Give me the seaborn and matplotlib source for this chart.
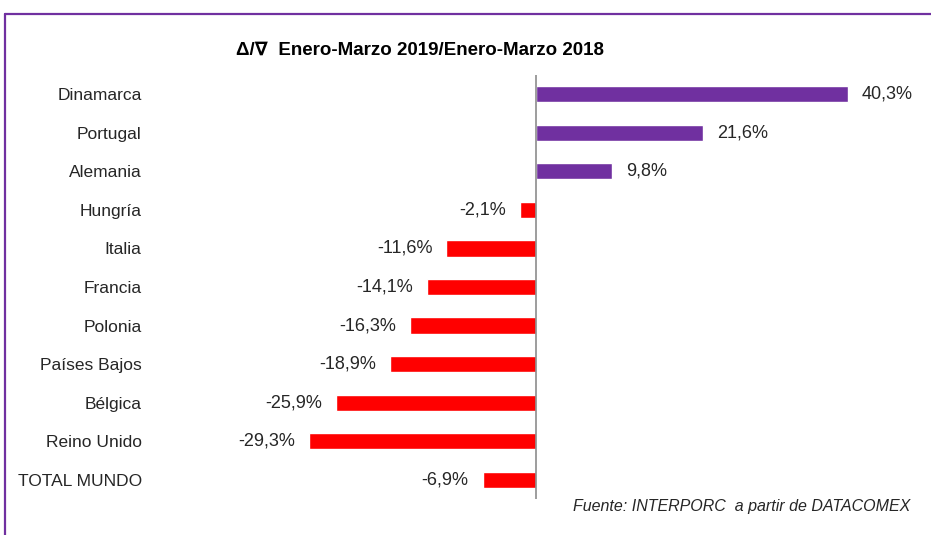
import matplotlib
matplotlib.use("Agg")
import matplotlib.pyplot as plt
from matplotlib.lines import Line2D
import seaborn as sns
import pandas as pd

# Year-on-year change, Jan-Mar 2019 vs Jan-Mar 2018 (%)
paises = ["Dinamarca", "Portugal", "Alemania", "Hungría", "Italia", "Francia",
          "Polonia", "Países Bajos", "Bélgica", "Reino Unido", "TOTAL MUNDO"]
variacion = [40.3, 21.6, 9.8, -2.1, -11.6, -14.1, -16.3, -18.9, -25.9, -29.3, -6.9]

color_pos = "#7030A0"
color_neg = "#FF0000"

sns.set_theme(style="white")
plt.rcParams["font.family"] = ["Liberation Sans", "DejaVu Sans"]

df = pd.DataFrame({"pais": paises, "var": variacion})
colores = {p: (color_pos if v >= 0 else color_neg) for p, v in zip(paises, variacion)}

fig = plt.figure(figsize=(9.31, 5.35), dpi=100)
ax = fig.add_axes([150 / 931, 36 / 535, 750 / 931, 424 / 535])

sns.barplot(data=df, x="var", y="pais", hue="pais", palette=colores,
            orient="h", width=0.42, legend=False, ax=ax, saturation=1)

ax.set_xlim((150 - 536) / 7.74, (900 - 536) / 7.74)
ax.set_ylim(len(paises) - 0.5, -0.5)
ax.axvline(0, color="#8c8c8c", lw=1.2, zorder=3)

for s in ax.spines.values():
    s.set_visible(False)
ax.set_xticks([])
ax.set_xlabel("")
ax.set_ylabel("")
ax.tick_params(axis="y", length=0, pad=6, labelsize=12.5, labelcolor="#262626")

for i, v in enumerate(variacion):
    txt = f"{v:.1f}".replace(".", ",") + "%"
    if v >= 0:
        ax.annotate(txt, (v, i), xytext=(10, 0), textcoords="offset points",
                    ha="left", va="center", fontsize=13, color="#262626")
    else:
        ax.annotate(txt, (v, i), xytext=(-10, 0), textcoords="offset points",
                    ha="right", va="center", fontsize=13, color="#262626")

fig.text(420 / 931, 1 - 50 / 535, "Δ/∇  Enero-Marzo 2019/Enero-Marzo 2018",
         ha="center", va="center", fontsize=13.5, fontweight="bold", color="#000000")
fig.text(910 / 931, 1 - 506 / 535, "Fuente: INTERPORC  a partir de DATACOMEX",
         ha="right", va="center", fontsize=11.5, style="italic", color="#262626")

# Frame lines along the top and left edges
y_top = 1 - 14 / 535
x_left = 5 / 931
fig.add_artist(Line2D([x_left, 1], [y_top, y_top], color="#7030A0", lw=1.6,
                      transform=fig.transFigure))
fig.add_artist(Line2D([x_left, x_left], [0, y_top], color="#7030A0", lw=1.6,
                      transform=fig.transFigure))

fig.savefig("out.png", dpi=100, facecolor="white")
